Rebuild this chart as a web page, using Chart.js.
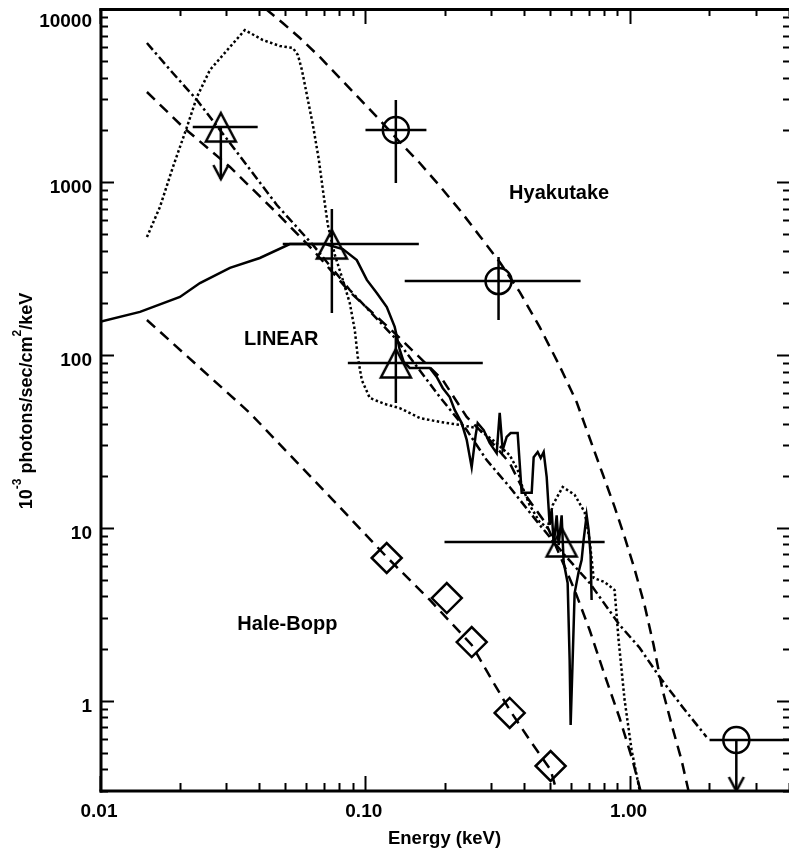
<!DOCTYPE html>
<html>
<head>
<meta charset="utf-8">
<title>Comet X-ray spectra</title>
<script src="https://cdn.jsdelivr.net/npm/chart.js@4.4.1/dist/chart.umd.min.js"></script>
<style>
  html, body { margin: 0; padding: 0; background: #fff; overflow: hidden; }
  canvas { display: block; }
</style>
</head>
<body>
<canvas id="spec" width="789" height="851"></canvas>
<script>
// ---- axis limits and labelled ticks ----
const xRange = [0.01, 4];
const yRange = [0.3, 10000];
const xTickValues = [0.01, 0.1, 1];
const xTickLabels = ['0.01', '0.10', '1.00'];
const yTickValues = [1, 10, 100, 1000, 10000];
const yTickLabels = ['1', '10', '100', '1000', '10000'];

// ---- Hyakutake model (dashed) ----
const hyakModelE = [0.0423, 0.0490, 0.0569, 0.0676, 0.0805, 0.0957, 0.1139, 0.1355, 0.1613, 0.1919,
  0.2283, 0.2716, 0.3232, 0.3845, 0.4573, 0.5444, 0.6310, 0.7065, 0.7909, 0.8777,
  0.9575, 1.044, 1.139, 1.232, 1.332, 1.453, 1.571, 1.670];
const hyakModelF = [10000, 8299, 6795, 5277, 3990, 3017, 2280, 1701, 1286, 947,
  688, 487, 344, 231, 145, 86.1, 53.3, 33.0, 20.5, 13.2,
  8.84, 5.77, 3.57, 2.10, 1.15, 0.694, 0.453, 0.30];

// ---- LINEAR models ----
// dashed
const linDashE = [0.01504, 0.02057, 0.03095, 0.04655, 0.06368, 0.08777, 0.1320, 0.1969, 0.2426, 0.2962,
  0.3525, 0.4086, 0.4863, 0.5444, 0.6201, 0.7065, 0.8047, 0.9168, 1.026, 1.100];
const linDashF = [3311, 2078, 1220, 661, 404, 231, 130, 71.5, 43.7, 32.2,
  23.7, 15.1, 10.4, 6.95, 4.36, 2.56, 1.41, 0.793, 0.453, 0.30];
// dash-dot
const linDashDotE = [0.01504, 0.01869, 0.02323, 0.03095, 0.04655, 0.06368, 0.08777, 0.1320, 0.1919, 0.2426,
  0.2886, 0.3525, 0.4573, 0.5686, 0.7065, 0.9168, 1.091, 1.298, 1.585, 1.952];
const linDashDotF = [6358, 4321, 2977, 1679, 735, 432, 237, 122, 57.0, 36.7,
  24.6, 17.2, 10.4, 6.95, 4.79, 2.74, 2.02, 1.37, 0.918, 0.616];
// dotted
const linDotE = [0.01504, 0.01684, 0.01886, 0.02130, 0.02323, 0.02601, 0.03095, 0.03525, 0.04121, 0.04778,
  0.05353, 0.05590, 0.05788, 0.06045, 0.06368, 0.06709, 0.06946, 0.07254, 0.07708, 0.08260,
  0.08777, 0.09167, 0.09409, 0.09743, 0.1044, 0.1190, 0.1355, 0.1613, 0.1919, 0.2283,
  0.2646, 0.3041, 0.3525, 0.3778, 0.3946, 0.4195, 0.4573, 0.4905, 0.5123, 0.5589,
  0.6201, 0.6764, 0.7065, 0.7314, 0.8047, 0.8777, 0.9089, 0.9575, 1.0175, 1.091];
const linDotF = [480, 716, 1220, 2078, 3098, 4438, 6030, 7557, 6616, 6109,
  5949, 5419, 4438, 3182, 2134, 1338, 898, 563, 378, 271,
  199, 139, 97.1, 71.5, 56.3, 51.9, 49.2, 43.1, 40.9, 39.3,
  37.7, 32.2, 26.3, 21.6, 17.0, 13.5, 10.8, 9.96, 13.5, 17.2,
  15.5, 12.3, 8.49, 5.12, 4.85, 4.36, 2.24, 1.01, 0.518, 0.304];
// measured LINEAR spectrum (solid)
const linSpecE = [0.01, 0.01416, 0.02004, 0.02385, 0.03095, 0.04015, 0.05212, 0.07063, 0.08260, 0.09328,
  0.1018, 0.1110, 0.1211, 0.1297, 0.1355, 0.1403, 0.1478, 0.1760, 0.1869, 0.1969,
  0.2093, 0.2185, 0.2323, 0.2426, 0.2533, 0.2623, 0.2669, 0.2812, 0.2962, 0.3148,
  0.3232, 0.3317, 0.3434, 0.3556, 0.3778, 0.3845, 0.3912, 0.4269, 0.4343, 0.4497,
  0.4616, 0.4738, 0.4863, 0.4991, 0.5079, 0.5168, 0.5304, 0.5397, 0.5539, 0.5636,
  0.5836, 0.5938, 0.5990, 0.6095, 0.6201, 0.6420, 0.6590, 0.6706, 0.6883, 0.7003,
  0.7126, 0.7188];
const linSpecF = [155, 177, 216, 260, 318, 363, 437, 437, 409, 353,
  271, 228, 189, 145, 107, 90.9, 83.9, 83.9, 74.4, 64.3,
  57.0, 48.0, 40.3, 32.2, 22.4, 34.4, 40.3, 36.7, 30.9, 27.0,
  46.1, 28.1, 33.5, 35.3, 35.3, 23.7, 15.9, 15.9, 25.6, 27.4,
  25.3, 27.4, 19.7, 10.4, 12.7, 7.94, 11.8, 7.94, 11.8, 6.33,
  4.79, 1.72, 0.723, 1.72, 4.19, 5.54, 6.50, 8.49, 11.8, 9.70,
  6.95, 3.82];

// ---- Hale-Bopp model (dashed) ----
const hbModelE = [0.01504, 0.0368, 0.0757, 0.121, 0.176, 0.2534, 0.296, 0.3525, 0.4195, 0.5033, 0.530];
const hbModelF = [159, 46.1, 14.5, 6.77, 3.82, 2.10, 1.388, 0.882, 0.592, 0.397, 0.30];

// ---- data points ----
// LINEAR (triangles)
const linPtE   = [0.0286, 0.0751, 0.131, 0.554];
const linPtF   = [2077, 437, 89.7, 8.27];
const linPtElo = [0.0224, 0.049, 0.0863, 0.200];
const linPtEhi = [0.0394, 0.160, 0.279, 0.805];
const linPtFlo = [null, 174.5, 52.6, null];
const linPtFhi = [null, 697, 130, null];
const linPtLimit = [1039, null, null, null];   // upper limit arrow ends
// Hyakutake (circles)
const hyakPtE   = [0.131, 0.320, 2.53];
const hyakPtF   = [1996, 267, 0.592];
const hyakPtElo = [0.1006, 0.1415, 2.004];
const hyakPtEhi = [0.1709, 0.653, 5.0];
const hyakPtFlo = [985, 159, null];
const hyakPtFhi = [2976, 368, null];
const hyakPtLimit = [null, null, 0.3];
// Hale-Bopp (diamonds)
const hbPtE = [0.121, 0.204, 0.2534, 0.3525, 0.5033];
const hbPtF = [6.68, 3.92, 2.18, 0.848, 0.4185];

// ---- text annotations (data coordinates) ----
const comets = ['Hyakutake', 'LINEAR', 'Hale-Bopp'];
const cometLabelE = [0.542, 0.0484, 0.0510];
const cometLabelF = [796, 114, 2.56];

const FONT = '"Liberation Sans", Arial, Helvetica, sans-serif';
const INK = '#000';

const xy = (E, F) => E.map((e, i) => ({ x: e, y: F[i] }));

function errorSegments(E, F, Elo, Ehi, Flo, Fhi, Lim) {
  const pts = [];
  for (let i = 0; i < E.length; i++) {
    pts.push({ x: Elo[i], y: F[i] }, { x: Ehi[i], y: F[i] }, { x: E[i], y: null });
    if (Flo[i] != null) pts.push({ x: E[i], y: Flo[i] }, { x: E[i], y: Fhi[i] }, { x: E[i], y: null });
    if (Lim[i] != null) pts.push({ x: E[i], y: F[i] }, { x: E[i], y: Lim[i] }, { x: E[i], y: null });
  }
  return pts;
}
function limitTips(E, Lim) {
  const pts = [];
  E.forEach((e, i) => { if (Lim[i] != null) pts.push({ x: e, y: Lim[i] }); });
  return pts;
}

// open triangle marker
function triangleMarker() {
  const c = document.createElement('canvas');
  c.width = 36; c.height = 36;
  const g = c.getContext('2d');
  g.strokeStyle = INK; g.lineWidth = 2.5;
  g.beginPath(); g.moveTo(18, 4); g.lineTo(33, 32.5); g.lineTo(3, 32.5); g.closePath(); g.stroke();
  return c;
}
// arrow head, tip at the centre of the canvas
function arrowHead() {
  const c = document.createElement('canvas');
  c.width = 20; c.height = 40;
  const g = c.getContext('2d');
  g.strokeStyle = INK; g.lineWidth = 2.5;
  g.beginPath(); g.moveTo(2.5, 6); g.lineTo(10, 20); g.lineTo(17.5, 6); g.stroke();
  return c;
}

const curve = (E, F, dash, width) => ({
  data: xy(E, F), showLine: true, pointRadius: 0, borderColor: INK,
  borderWidth: width, borderDash: dash, borderCapStyle: 'butt', tension: 0, spanGaps: false
});

// minor + major ticks of a log axis
function logTicks(min, max) {
  const out = [];
  for (let d = Math.floor(Math.log10(min)); d <= Math.ceil(Math.log10(max)); d++) {
    for (let m = 1; m <= 9; m++) {
      const v = m * Math.pow(10, d);
      if (v >= min * 0.9999 && v <= max * 1.0001) out.push({ v, major: m === 1 });
    }
  }
  return out;
}

const axesFrame = {
  id: 'axesFrame',
  beforeDraw(chart) {
    const { ctx } = chart;
    ctx.save(); ctx.fillStyle = '#fff'; ctx.fillRect(0, 0, chart.width, chart.height); ctx.restore();
  },
  afterDraw(chart) {
    const { ctx, chartArea: a, scales: { x, y } } = chart;
    ctx.save();
    ctx.strokeStyle = INK;
    const seg = (x1, y1, x2, y2) => { ctx.beginPath(); ctx.moveTo(x1, y1); ctx.lineTo(x2, y2); ctx.stroke(); };

    // ticks, pointing inwards on all four sides
    ctx.lineWidth = 2;
    for (const t of logTicks(xRange[0], xRange[1])) {
      const px = Math.round(x.getPixelForValue(t.v)) + 0.5;
      seg(px, a.bottom, px, a.bottom - (t.major ? 15 : 8));
      seg(px, a.top, px, a.top + (t.major ? 15 : 7));
    }
    for (const t of logTicks(yRange[0], yRange[1])) {
      const py = Math.round(y.getPixelForValue(t.v)) + 0.5;
      seg(a.right + 2, py, a.right - (t.major ? 12 : 6), py);
      seg(a.left, py, a.left + (t.major ? 14 : 8), py);
    }

    // frame (the right-hand side sits just past the canvas edge)
    ctx.lineWidth = 3;
    seg(a.left + 1, a.top - 1, a.left + 1, a.bottom + 1.5);
    seg(a.left - 0.5, a.top + 0.5, a.right + 4, a.top + 0.5);
    seg(a.left - 0.5, a.bottom, a.right + 4, a.bottom);
    seg(a.right + 3, a.top, a.right + 3, a.bottom);

    // tick labels
    ctx.fillStyle = INK;
    ctx.font = 'bold 19px ' + FONT;
    ctx.textBaseline = 'alphabetic';
    ctx.textAlign = 'center';
    xTickValues.forEach((v, i) => ctx.fillText(xTickLabels[i], x.getPixelForValue(v) - 1, 817));
    ctx.textAlign = 'right';
    yTickValues.forEach((v, i) => {
      const py = Math.max(y.getPixelForValue(v) + 11, a.top + 18);
      ctx.fillText(yTickLabels[i], a.left - 8, py);
    });

    // axis titles
    ctx.textAlign = 'center';
    ctx.font = 'bold 18.5px ' + FONT;
    ctx.fillText('Energy (keV)', (a.left + a.right) / 2, 844);

    const parts = [
      { t: '10', sup: false }, { t: '-3', sup: true }, { t: ' photons/sec/cm', sup: false },
      { t: '2', sup: true }, { t: '/keV', sup: false }
    ];
    const mainFont = 'bold 18px ' + FONT, supFont = 'bold 12px ' + FONT;
    let total = 0;
    for (const p of parts) { ctx.font = p.sup ? supFont : mainFont; p.w = ctx.measureText(p.t).width; total += p.w; }
    ctx.translate(32, (a.top + a.bottom) / 2 + 1);
    ctx.rotate(-Math.PI / 2);
    ctx.textAlign = 'left';
    let u = -total / 2;
    for (const p of parts) {
      ctx.font = p.sup ? supFont : mainFont;
      ctx.fillText(p.t, u, p.sup ? -11 : 0);
      u += p.w;
    }
    ctx.restore();

    // comet names
    ctx.save();
    ctx.fillStyle = INK;
    ctx.font = 'bold 20px ' + FONT;
    ctx.textAlign = 'center';
    ctx.textBaseline = 'alphabetic';
    comets.forEach((name, i) => ctx.fillText(name, x.getPixelForValue(cometLabelE[i]), y.getPixelForValue(cometLabelF[i])));
    ctx.restore();
  }
};

const tri = triangleMarker();
const head = arrowHead();

new Chart(document.getElementById('spec'), {
  type: 'scatter',
  data: {
    datasets: [
      // markers (first datasets are drawn on top)
      { data: xy(linPtE, linPtF), pointStyle: tri, pointRadius: 15, showLine: false },
      { data: xy(hyakPtE, hyakPtF), pointStyle: 'circle', pointRadius: 13, pointBorderWidth: 2.5,
        pointBorderColor: INK, pointBackgroundColor: 'rgba(0,0,0,0)', showLine: false },
      { data: xy(hbPtE, hbPtF), pointStyle: 'rectRot', pointRadius: 15, pointBorderWidth: 2.5,
        pointBorderColor: INK, pointBackgroundColor: 'rgba(0,0,0,0)', showLine: false },
      { data: limitTips(linPtE, linPtLimit).concat(limitTips(hyakPtE, hyakPtLimit)),
        pointStyle: head, pointRadius: 10, showLine: false },
      // error bars
      { data: errorSegments(linPtE, linPtF, linPtElo, linPtEhi, linPtFlo, linPtFhi, linPtLimit),
        showLine: true, pointRadius: 0, borderColor: INK, borderWidth: 2.5, spanGaps: false, tension: 0 },
      { data: errorSegments(hyakPtE, hyakPtF, hyakPtElo, hyakPtEhi, hyakPtFlo, hyakPtFhi, hyakPtLimit),
        showLine: true, pointRadius: 0, borderColor: INK, borderWidth: 2.5, spanGaps: false, tension: 0 },
      // spectra and models
      curve(linSpecE, linSpecF, [], 2.5),
      curve(linDotE, linDotF, [2.5, 2.5], 2.5),
      curve(linDashDotE, linDashDotF, [9, 3.5, 2.5, 3.5], 2.5),
      curve(linDashE, linDashF, [11, 7], 2.5),
      curve(hyakModelE, hyakModelF, [11, 7], 2.5),
      curve(hbModelE, hbModelF, [11, 7], 2.5)
    ]
  },
  options: {
    responsive: false,
    animation: false,
    devicePixelRatio: 1,
    events: [],
    layout: { autoPadding: false, padding: { left: 100, top: 9, right: 0, bottom: 60 } },
    scales: {
      x: { type: 'logarithmic', min: xRange[0], max: xRange[1], display: false },
      y: { type: 'logarithmic', min: yRange[0], max: yRange[1], display: false }
    },
    plugins: { legend: { display: false }, tooltip: { enabled: false } }
  },
  plugins: [axesFrame]
});
</script>
</body>
</html>
